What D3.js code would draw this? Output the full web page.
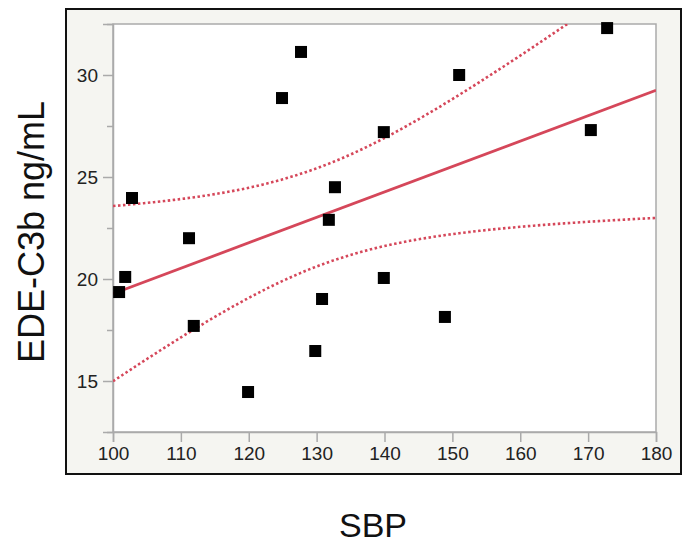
<!DOCTYPE html>
<html>
<head>
<meta charset="utf-8">
<script src="https://cdn.jsdelivr.net/npm/d3@7"></script>
<style>
  body { margin: 0; background: #fff; }
  text { font-family: "Liberation Sans", Arial, Helvetica, sans-serif; }
</style>
</head>
<body>
<script>
// SBP vs EDE-C3b
var sbp  = [100.9, 101.8, 102.8, 111.2, 111.9, 119.9, 124.9, 127.7, 129.8, 130.8, 131.8, 132.7, 139.9, 139.9, 148.9, 151.0, 170.4, 172.8];
var ede  = [19.36, 20.1, 23.97, 22.0, 17.7, 14.46, 28.87, 31.13, 16.47, 19.02, 22.9, 24.5, 27.2, 20.05, 18.14, 30.0, 27.3, 32.3];
var xTicks = [100, 110, 120, 130, 140, 150, 160, 170, 180];
var yTicks = [15, 20, 25, 30];
var yMinor = [12.5, 17.5, 22.5, 27.5, 32.5];
var xDomain = [100, 180];
var yDomain = [12.5, 32.5];
var tCrit = 2.12; // t(0.975, 16)

var width = 684, height = 545;
var frame = {left: 66, top: 9, right: 681, bottom: 474};
var margin = {top: 24, right: 28, bottom: 113, left: 113};

var svg = d3.select("body").append("svg")
  .attr("width", width)
  .attr("height", height);

var defs = svg.append("defs");
defs.append("clipPath").attr("id", "plotclip")
  .append("rect")
  .attr("x", margin.left).attr("y", margin.top)
  .attr("width", width - margin.right - margin.left).attr("height", height - margin.bottom - margin.top);

// outer panel
svg.append("rect")
  .attr("x", frame.left).attr("y", frame.top)
  .attr("width", frame.right - frame.left).attr("height", frame.bottom - frame.top)
  .attr("fill", "#f5f5f1")
  .attr("stroke", "#111")
  .attr("stroke-width", 2);

var x = d3.scaleLinear().domain(xDomain).range([margin.left, width - margin.right]);
var y = d3.scaleLinear().domain(yDomain).range([height - margin.bottom, margin.top]);

// plot area
svg.append("rect")
  .attr("x", x(xDomain[0])).attr("y", y(yDomain[1]))
  .attr("width", x(xDomain[1]) - x(xDomain[0]))
  .attr("height", y(yDomain[0]) - y(yDomain[1]))
  .attr("fill", "#fff")
  .attr("stroke", "#aaa")
  .attr("stroke-width", 1.5);

// axes
var xAxis = svg.append("g")
  .attr("transform", "translate(0," + y(yDomain[0]) + ")")
  .call(d3.axisBottom(x).tickValues(xTicks).tickSize(10).tickPadding(5));
var yAxis = svg.append("g")
  .attr("transform", "translate(" + x(xDomain[0]) + ",0)")
  .call(d3.axisLeft(y).tickValues(yTicks).tickSize(10).tickPadding(5));
svg.append("g")
  .attr("transform", "translate(" + x(xDomain[0]) + ",0)")
  .call(d3.axisLeft(y).tickValues(yMinor).tickSize(6).tickFormat(""))
  .select(".domain").remove();

[xAxis, yAxis].forEach(function(g) {
  g.attr("font-size", null).attr("font-family", null);
  g.select(".domain").attr("stroke", "#aaa").attr("stroke-width", 1.5);
  g.selectAll(".tick text").style("font-size", "19px").attr("fill", "#222");
});
svg.selectAll(".tick line").attr("stroke", "#aaa").attr("stroke-width", 1.5);

// regression fit with 95% confidence band of the mean
var n = sbp.length;
var mx = d3.mean(sbp), my = d3.mean(ede);
var sxx = d3.sum(sbp, function(v) { return (v - mx) * (v - mx); });
var sxy = d3.sum(sbp, function(v, i) { return (v - mx) * (ede[i] - my); });
var slope = sxy / sxx, icpt = my - slope * mx;
var sse = d3.sum(sbp, function(v, i) { var r = ede[i] - (icpt + slope * v); return r * r; });
var s = Math.sqrt(sse / (n - 2));

var grid = d3.range(xDomain[0], xDomain[1] + 0.01, 0.5);
function half(v) { return tCrit * s * Math.sqrt(1 / n + (v - mx) * (v - mx) / sxx); }

var line = d3.line()
  .x(function(d) { return x(d[0]); })
  .y(function(d) { return y(d[1]); });

var fitG = svg.append("g").attr("clip-path", "url(#plotclip)");

fitG.append("path")
  .attr("d", line(grid.map(function(v) { return [v, icpt + slope * v + half(v)]; })))
  .attr("fill", "none").attr("stroke", "#d5475a").attr("stroke-width", 2.6)
  .attr("stroke-dasharray", "2.5,2.5");
fitG.append("path")
  .attr("d", line(grid.map(function(v) { return [v, icpt + slope * v - half(v)]; })))
  .attr("fill", "none").attr("stroke", "#d5475a").attr("stroke-width", 2.6)
  .attr("stroke-dasharray", "2.5,2.5");
fitG.append("path")
  .attr("d", line(xDomain.map(function(v) { return [v, icpt + slope * v]; })))
  .attr("fill", "none").attr("stroke", "#d5475a").attr("stroke-width", 2.8);

// points
var sq = 12;
svg.append("g").selectAll("rect")
  .data(sbp)
  .enter().append("rect")
  .attr("x", function(d) { return x(d) - sq / 2; })
  .attr("y", function(d, i) { return y(ede[i]) - sq / 2; })
  .attr("width", sq).attr("height", sq)
  .attr("fill", "#000");

// axis titles
svg.append("text")
  .attr("x", 373).attr("y", 537)
  .attr("text-anchor", "middle")
  .attr("font-size", 34)
  .attr("fill", "#111")
  .text("SBP");
svg.append("text")
  .attr("transform", "translate(44,232) rotate(-90)")
  .attr("text-anchor", "middle")
  .attr("font-size", 36)
  .attr("fill", "#111")
  .text("EDE-C3b ng/mL");
</script>
</body>
</html>
